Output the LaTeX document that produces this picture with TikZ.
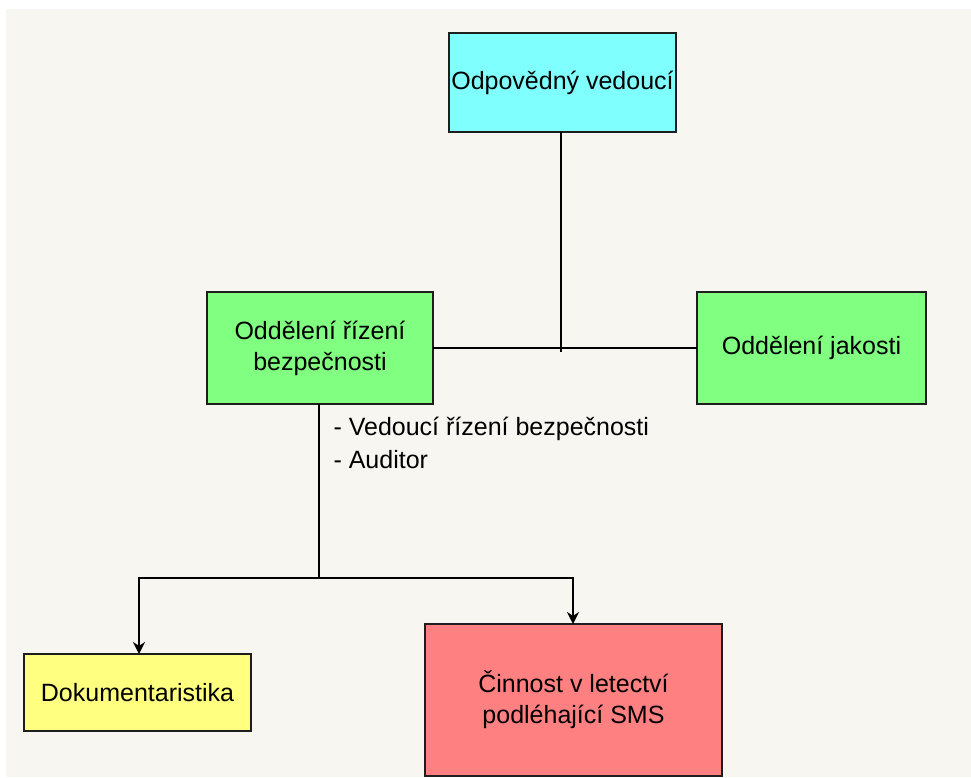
\documentclass[tikz,border=0pt]{standalone}
\usepackage{fontspec}
\setmainfont{Liberation Sans}
\usetikzlibrary{arrows.meta}
\definecolor{paper}{HTML}{F8F6F0}
\definecolor{boxcyan}{HTML}{80FFFF}
\definecolor{boxgreen}{HTML}{80FF80}
\definecolor{boxyellow}{HTML}{FFFF80}
\definecolor{boxred}{HTML}{FF8080}
\definecolor{edge}{HTML}{1E1E1E}
\tikzset{
  orgbox/.style={draw=edge, line width=2pt, inner sep=0pt, align=center,
    font=\fontsize{25}{31}\selectfont, text=black},
  link/.style={draw=black, line width=2pt},
  arrowlink/.style={link, -{Stealth[length=12pt,width=12pt]}},
}
\begin{document}
\begin{tikzpicture}[x=1pt,y=-1pt]
  \useasboundingbox (0,0) rectangle (971,778);
  \fill[white] (0,0) rectangle (971,778);
  \fill[paper] (6,9) rectangle (971,777);

  % boxes given by corner coordinates
  \path[orgbox, fill=boxcyan] (449,33) rectangle (676,132);
  \node (top) at (562.5,82.5) [font=\fontsize{25}{31}\selectfont] {Odpovědný vedoucí};
  \coordinate (topS) at (561,132);

  \path[orgbox, fill=boxgreen] (207,292) rectangle (433,404);
  \node (safety) at (320,348) [align=center, font=\fontsize{25}{31}\selectfont] {Oddělení řízení\\bezpečnosti};
  \coordinate (safetyE) at (433,348);
  \coordinate (safetyS) at (319,404);

  \path[orgbox, fill=boxgreen] (697,292) rectangle (926,404);
  \node (quality) at (811.5,348) [font=\fontsize{25}{31}\selectfont] {Oddělení jakosti};
  \coordinate (qualityW) at (697,348);

  \path[orgbox, fill=boxyellow] (24,654) rectangle (251,731);
  \node (docs) at (137.5,692.5) [font=\fontsize{25}{31}\selectfont] {Dokumentaristika};
  \coordinate (docsN) at (139,654);

  \path[orgbox, fill=boxred] (425,624) rectangle (722,776);
  \node (ops) at (573.5,700) [align=center, font=\fontsize{25}{31}\selectfont] {Činnost v letectví\\podléhající SMS};
  \coordinate (opsN) at (573,624);

  % connectors
  \coordinate (junction) at (561,352);
  \draw[link] (topS) -- (junction);
  \draw[link] (safetyE) -- (qualityW);
  \coordinate (split) at (319,578);
  \draw[link] (safetyS) -- (split);
  \draw[arrowlink] (split) -| (docsN);
  \draw[arrowlink] (split) -| (opsN);

  % roles listed under the safety department
  \node (roles) at (330,443) [anchor=west, align=left, font=\fontsize{25}{33}\selectfont]
    {- Vedoucí řízení bezpečnosti\\- Auditor};
\end{tikzpicture}
\end{document}
